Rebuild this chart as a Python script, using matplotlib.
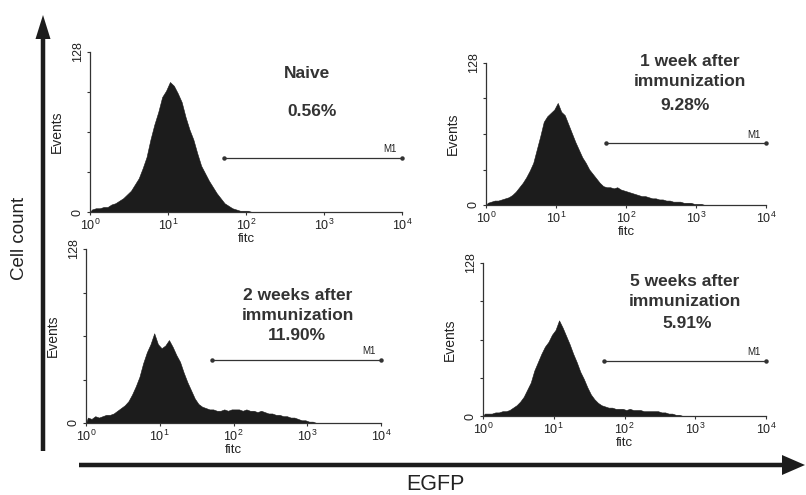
import numpy as np
import matplotlib.pyplot as plt
from matplotlib.patches import FancyArrow

plt.rcParams['font.family'] = ['Liberation Sans', 'DejaVu Sans']
plt.rcParams['mathtext.fontset'] = 'custom'
plt.rcParams['mathtext.rm'] = 'Liberation Sans'

# events per channel, channels are 0.05 decade wide starting at 10^0
naive = [2, 3, 3, 4, 4, 6, 7, 9, 11, 14, 17, 22, 27, 35, 44, 58, 70, 80, 92, 97,
         104, 101, 95, 88, 76, 66, 58, 47, 37, 31, 25, 20, 15, 11, 7, 5, 3, 2, 1, 1, 1]
week1 = [2, 3, 4, 4, 5, 6, 7, 9, 12, 16, 20, 25, 31, 38, 50, 62, 75, 80, 83, 86,
         92, 84, 81, 73, 65, 57, 50, 43, 38, 32, 28, 24, 20, 17, 16, 16, 15, 16, 14, 13,
         12, 11, 10, 9, 8, 8, 7, 6, 6, 5, 5, 4, 4, 3, 3, 3, 2, 2, 2, 1, 1, 1]
week2 = [4, 3, 5, 4, 5, 6, 6, 7, 9, 11, 13, 16, 21, 27, 34, 44, 52, 58, 66, 58,
         55, 57, 61, 56, 50, 45, 37, 30, 24, 18, 14, 12, 11, 10, 10, 9, 9, 10, 9, 10,
         10, 10, 9, 10, 9, 9, 8, 9, 8, 7, 7, 6, 6, 5, 5, 4, 4, 3, 2, 2, 1, 1]
week5 = [2, 2, 2, 3, 3, 4, 4, 5, 7, 9, 12, 16, 22, 28, 38, 45, 52, 58, 62, 68,
         72, 80, 74, 67, 60, 52, 45, 37, 31, 24, 18, 14, 11, 9, 8, 7, 7, 6, 6, 6,
         5, 6, 5, 5, 5, 4, 4, 4, 4, 4, 3, 3, 2, 2, 1, 1]

histograms = [naive, week1, week2, week5]
titles = [['Naive'],
          ['1 week after', 'immunization'],
          ['2 weeks after', 'immunization'],
          ['5 weeks after', 'immunization']]
percents = ['0.56%', '9.28%', '11.90%', '5.91%']
m1_start = [1.72, 1.71, 1.71, 1.71]   # log10 of gate start
m1_level = [43, 56, 46, 46]           # height of the gate line in events

W, H = 806, 495
# panel boxes in pixels: x at 10^0, x at 10^4, y at 0, y at 128
boxes = [(90, 402, 212, 52), (486, 766, 205, 63), (86, 381, 423, 249), (483, 766, 416, 263)]
# title line centres in pixels
title_pos = [[(307, 73)], [(690, 62), (690, 81)], [(298, 295), (298, 316)], [(685, 282), (685, 302)]]
pct_pos = [(312, 111), (685, 105), (297, 336), (687, 323)]

ink = '#1c1c1c'
fig = plt.figure(figsize=(W / 100, H / 100), dpi=100)

ov = fig.add_axes([0, 0, 1, 1])
ov.set_xlim(0, W)
ov.set_ylim(H, 0)
ov.axis('off')
ov.add_patch(FancyArrow(43, 451, 0, -436, width=4.5, head_width=15, head_length=24,
                        length_includes_head=True, color=ink, lw=0))
ov.add_patch(FancyArrow(79, 465, 726, 0, width=4.5, head_width=20, head_length=23,
                        length_includes_head=True, color=ink, lw=0))
ov.text(20, 238, 'Cell count', rotation=90, ha='center', va='center', fontsize=13.5, color='#222')
ov.text(435, 484, 'EGFP', ha='center', va='center', fontsize=15.5, color='#222')

for i, (x0, x1, y0, y1) in enumerate(boxes):
    ax = fig.add_axes([x0 / W, 1 - y0 / H, (x1 - x0) / W, (y0 - y1) / H])
    ax.set_facecolor('none')
    counts = histograms[i]
    # channel centres, joined to the baseline at both ends
    centres = 10 ** ((np.arange(len(counts)) + 0.5) * 0.05)
    xs = np.concatenate([[1], centres, [centres[-1] * 10 ** 0.05]])
    ys = np.concatenate([[0], counts, [0]])
    ax.fill_between(xs, ys, 0, color=ink, lw=0.4, edgecolor=ink)
    ax.set_xscale('log')
    ax.set_xlim(1, 1e4)
    ax.set_ylim(0, 128)
    for s in ['top', 'right']:
        ax.spines[s].set_visible(False)
    for s in ['left', 'bottom']:
        ax.spines[s].set_color('#333')
        ax.spines[s].set_linewidth(0.9)
    ax.set_xticks([1, 10, 100, 1000, 10000])
    ax.set_xticklabels([r'$\mathregular{10^{%d}}$' % k for k in range(5)])
    ax.minorticks_off()
    ax.set_yticks([0, 32, 64, 96, 128])
    ax.set_yticklabels(['0', '', '', '', '128'], rotation=90, va='center')
    ax.tick_params(axis='both', length=2.5, width=0.8, color='#333', labelsize=9,
                   labelcolor='#222', pad=2)
    ax.set_xlabel('fitc', fontsize=9.5, color='#222', labelpad=0)
    ax.set_ylabel('Events', fontsize=10, color='#222', labelpad=6)

    g0 = 10 ** m1_start[i]
    ax.plot([g0, 1e4], [m1_level[i], m1_level[i]], color='#333', lw=0.9,
            marker='o', markersize=2.2, clip_on=False)
    ax.text(10 ** 3.93, m1_level[i] + 3, 'M1', fontsize=7, ha='right', va='bottom', color='#222')

    for line, (tx, ty) in zip(titles[i], title_pos[i]):
        ov.text(tx, ty, line, ha='center', va='center', fontsize=12.5, fontweight='bold', color='#333')
    ov.text(pct_pos[i][0], pct_pos[i][1], percents[i], ha='center', va='center',
            fontsize=12.5, fontweight='bold', color='#333')

fig.savefig('out.png', dpi=100)
